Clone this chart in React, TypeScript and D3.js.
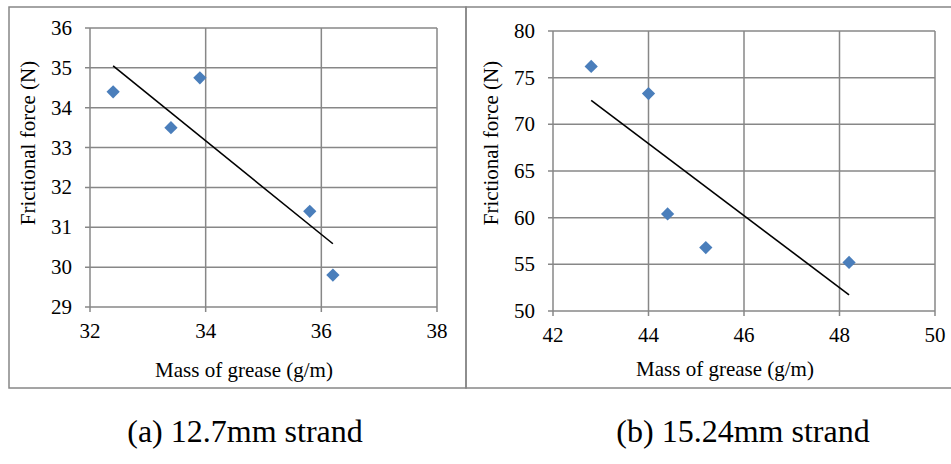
import * as d3 from "d3";
import { useEffect, useRef } from "react";

// (a) 12.7mm strand
const greaseA = [32.4, 33.4, 33.9, 35.8, 36.2];
const forceA = [34.4, 33.5, 34.75, 31.4, 29.8];
const xTicksA = [32, 34, 36, 38];
const yTicksA = [29, 30, 31, 32, 33, 34, 35, 36];

// (b) 15.24mm strand
const greaseB = [42.8, 44.0, 44.4, 45.2, 48.2];
const forceB = [76.2, 73.3, 60.4, 56.8, 55.2];
const xTicksB = [42, 44, 46, 48, 50];
const yTicksB = [50, 55, 60, 65, 70, 75, 80];

const captions = ["(a) 12.7mm strand", "(b) 15.24mm strand"];
const xTitle = "Mass of grease (g/m)";
const yTitle = "Frictional force (N)";

const FONT = "Liberation Serif, Times New Roman, DejaVu Serif, serif";
const GRID = "#878787";
const MARKER = "#4a7ebb";

function linearFit(xs, ys) {
	const mx = d3.mean(xs);
	const my = d3.mean(ys);
	let num = 0;
	let den = 0;
	xs.forEach((x, i) => {
		num += (x - mx) * (ys[i] - my);
		den += (x - mx) * (x - mx);
	});
	const slope = num / den;
	return (x) => my + slope * (x - mx);
}

function drawPanel(svg, opt) {
	const { xs, ys, xTicks, yTicks, box, plot, titleX, titleY, caption } = opt;

	const g = svg.append("g").style("font-family", FONT);

	// panel frame
	g.append("rect")
		.attr("x", box.left)
		.attr("y", box.top)
		.attr("width", box.right - box.left)
		.attr("height", box.bottom - box.top)
		.attr("fill", "none")
		.attr("stroke", GRID)
		.attr("stroke-width", 1.5);

	const x = d3.scaleLinear().domain(d3.extent(xTicks)).range([plot.left, plot.right]);
	const y = d3.scaleLinear().domain(d3.extent(yTicks)).range([plot.bottom, plot.top]);

	// horizontal grid + ticks on the left
	g.selectAll(".hgrid")
		.data(yTicks)
		.enter()
		.append("line")
		.attr("x1", plot.left - 5)
		.attr("x2", plot.right)
		.attr("y1", (d) => y(d))
		.attr("y2", (d) => y(d))
		.attr("stroke", GRID)
		.attr("stroke-width", 1.5);

	// vertical grid + ticks below
	g.selectAll(".vgrid")
		.data(xTicks)
		.enter()
		.append("line")
		.attr("x1", (d) => x(d))
		.attr("x2", (d) => x(d))
		.attr("y1", plot.top)
		.attr("y2", plot.bottom + 5)
		.attr("stroke", GRID)
		.attr("stroke-width", 1.5);

	g.selectAll(".ylab")
		.data(yTicks)
		.enter()
		.append("text")
		.attr("x", plot.left - 18)
		.attr("y", (d) => y(d) + 7)
		.attr("text-anchor", "end")
		.attr("font-size", 21)
		.text((d) => d);

	g.selectAll(".xlab")
		.data(xTicks)
		.enter()
		.append("text")
		.attr("x", (d) => x(d))
		.attr("y", plot.bottom + 31)
		.attr("text-anchor", "middle")
		.attr("font-size", 21)
		.text((d) => d);

	// trend line
	const fit = linearFit(xs, ys);
	const [lo, hi] = d3.extent(xs);
	g.append("path")
		.attr("d", d3.line()([[x(lo), y(fit(lo))], [x(hi), y(fit(hi))]]))
		.attr("stroke", "#000")
		.attr("stroke-width", 1.6)
		.attr("fill", "none");

	// diamonds
	const diamond = d3.symbol().type(d3.symbolSquare).size(88);
	g.selectAll(".pt")
		.data(xs.map((v, i) => [v, ys[i]]))
		.enter()
		.append("path")
		.attr("d", diamond())
		.attr("transform", (d) => "translate(" + x(d[0]) + "," + y(d[1]) + ") rotate(45)")
		.attr("fill", MARKER);

	g.append("text")
		.attr("x", titleX.x)
		.attr("y", titleX.y)
		.attr("text-anchor", "middle")
		.attr("font-size", 21)
		.text(xTitle);

	g.append("text")
		.attr("transform", "translate(" + titleY.x + "," + titleY.y + ") rotate(-90)")
		.attr("text-anchor", "middle")
		.attr("font-size", 21)
		.text(yTitle);

	g.append("text")
		.attr("x", caption.x)
		.attr("y", caption.y)
		.attr("text-anchor", "middle")
		.attr("font-size", 32)
		.text(caption.text);
}

export default function App() {
	const ref = useRef(null);

	useEffect(() => {
		const svg = d3.select(ref.current);
		svg.selectAll("*").remove();

		drawPanel(svg, {
			xs: greaseA,
			ys: forceA,
			xTicks: xTicksA,
			yTicks: yTicksA,
			box: { left: 9, right: 466, top: 7, bottom: 388 },
			plot: { left: 90, right: 437, top: 28, bottom: 307 },
			titleX: { x: 244, y: 377 },
			titleY: { x: 35, y: 143 },
			caption: { x: 245, y: 442, text: captions[0] }
		});

		drawPanel(svg, {
			xs: greaseB,
			ys: forceB,
			xTicks: xTicksB,
			yTicks: yTicksB,
			box: { left: 466, right: 960, top: 7, bottom: 388 },
			plot: { left: 553, right: 935, top: 31, bottom: 311 },
			titleX: { x: 725, y: 376 },
			titleY: { x: 498, y: 143 },
			caption: { x: 743, y: 442, text: captions[1] }
		});
	}, []);

	return (
		<svg
			ref={ref}
			width={951}
			height={464}
			style={{ position: "absolute", left: 0, top: 0, background: "#fff" }}
		/>
	);
}
